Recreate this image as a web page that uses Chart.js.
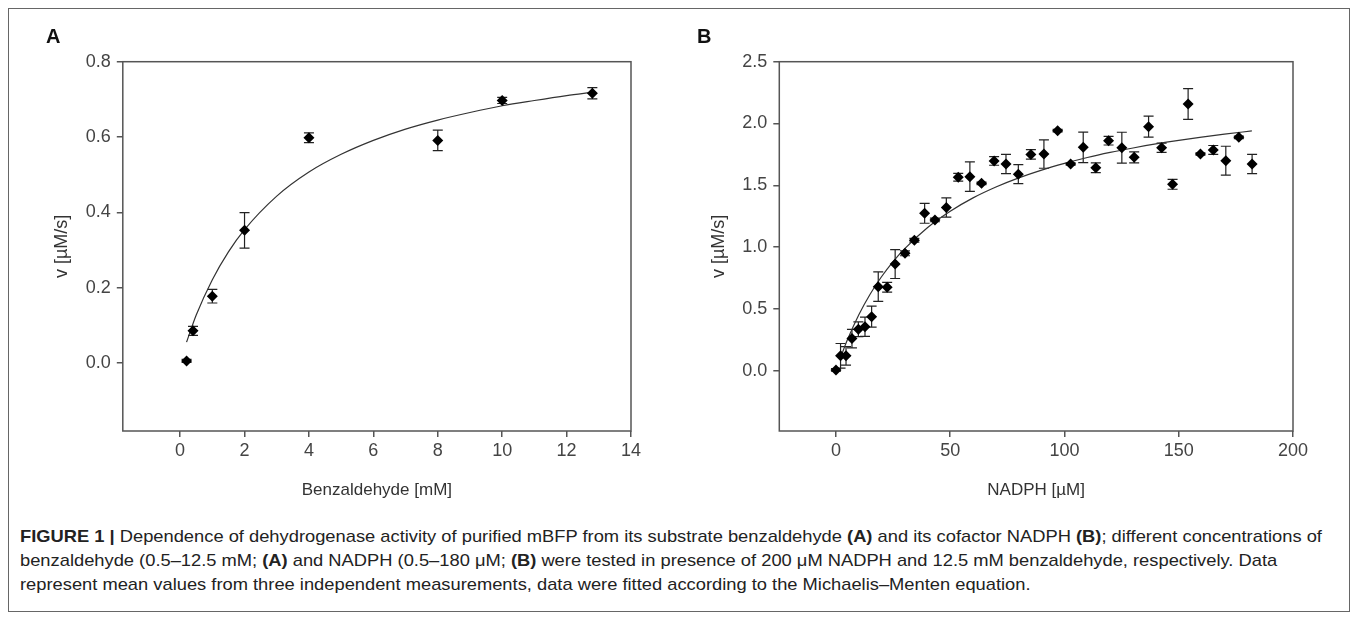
<!DOCTYPE html>
<html>
<head>
<meta charset="utf-8">
<script src="https://cdn.jsdelivr.net/npm/chart.js@4/dist/chart.umd.min.js"></script>
<style>
  html, body { margin: 0; padding: 0; background: #fff; }
  body { width: 1358px; height: 621px; position: relative; overflow: hidden; font-family: 'Liberation Sans', Arial, sans-serif; }
  #frame { position: absolute; left: 8px; top: 8px; width: 1342px; height: 604px; border: 1px solid #666; box-sizing: border-box; }
  .wrap { position: absolute; top: 0; height: 520px; }
  .letter { position: absolute; font: bold 20px 'Liberation Sans', Arial, sans-serif; color: #111; line-height: 20px; }
  #caption { position: absolute; left: 20px; top: 525px; font-family: 'Liberation Sans Narrow', 'Liberation Sans', Arial, sans-serif; font-size: 17px; line-height: 24px; color: #222; white-space: nowrap; transform-origin: 0 0; }
  #caption b { font-weight: bold; }
</style>
</head>
<body>
<div id="frame"></div>
<div class="wrap" style="left:0;width:680px"><canvas id="cA" width="680" height="520"></canvas></div>
<div class="wrap" style="left:680px;width:678px"><canvas id="cB" width="678" height="520"></canvas></div>
<div class="letter" style="left:46px;top:26px">A</div>
<div class="letter" style="left:697px;top:26px">B</div>
<div id="caption">
<div id="l1"><b>FIGURE 1 |</b> Dependence of dehydrogenase activity of purified mBFP from its substrate benzaldehyde <b>(A)</b> and its cofactor NADPH <b>(B)</b>; different concentrations of</div>
<div>benzaldehyde (0.5–12.5 mM; <b>(A)</b> and NADPH (0.5–180 μM; <b>(B)</b> were tested in presence of 200 μM NADPH and 12.5 mM benzaldehyde, respectively. Data</div>
<div>represent mean values from three independent measurements, data were fitted according to the Michaelis–Menten equation.</div>
</div>
<script>
// ---------- Panel A data: benzaldehyde ----------
const concA = [0.2, 0.4, 1.0, 2.0, 4.0, 8.0, 10.0, 12.8];
const vA    = [0.005, 0.085, 0.177, 0.352, 0.598, 0.591, 0.697, 0.716];
const errA  = [0.004, 0.012, 0.018, 0.047, 0.013, 0.027, 0.008, 0.015];
const fitAx = [0.2, 0.5, 1, 1.5, 2, 3, 4, 5, 6, 7, 8, 9, 10, 11, 12, 12.8];
const fitAy = [0.055, 0.127, 0.221, 0.295, 0.354, 0.443, 0.507, 0.554, 0.591, 0.621, 0.645, 0.665, 0.683, 0.697, 0.710, 0.719];
const xTicksA = [0, 2, 4, 6, 8, 10, 12, 14];
const yTicksA = [0.0, 0.2, 0.4, 0.6, 0.8];

// ---------- Panel B data: NADPH ----------
const concB = [0, 2.0, 4.4, 7.0, 9.8, 12.7, 15.6, 18.5, 22.4, 25.9, 30.2, 34.3, 38.8, 43.3, 48.3, 53.5, 58.6, 63.7, 69.2, 74.4, 79.8, 85.3, 91.0, 97.0, 102.7, 108.2, 113.7, 119.3, 125.1, 130.5, 136.8, 142.5, 147.3, 154.1, 159.5, 165.1, 170.6, 176.3, 182.1];
const vB    = [0.006, 0.12, 0.12, 0.26, 0.335, 0.356, 0.437, 0.68, 0.675, 0.863, 0.95, 1.055, 1.273, 1.22, 1.32, 1.565, 1.57, 1.516, 1.697, 1.672, 1.59, 1.75, 1.753, 1.942, 1.672, 1.807, 1.642, 1.861, 1.804, 1.726, 1.974, 1.804, 1.508, 2.158, 1.753, 1.786, 1.699, 1.888, 1.672];
const errB  = [0.01, 0.10, 0.075, 0.075, 0.06, 0.078, 0.085, 0.12, 0.04, 0.117, 0.02, 0.015, 0.08, 0.015, 0.078, 0.032, 0.12, 0.01, 0.035, 0.078, 0.077, 0.038, 0.115, 0.01, 0.01, 0.124, 0.04, 0.035, 0.125, 0.045, 0.085, 0.038, 0.04, 0.124, 0.01, 0.036, 0.117, 0.01, 0.078];
const fitBx = [2.5, 5, 10, 15, 20, 25, 30, 40, 50, 60, 70, 80, 90, 100, 110, 120, 130, 140, 150, 160, 170, 182];
const fitBy = [0.132, 0.250, 0.453, 0.621, 0.762, 0.883, 0.986, 1.157, 1.290, 1.398, 1.486, 1.560, 1.623, 1.677, 1.725, 1.766, 1.802, 1.835, 1.864, 1.890, 1.914, 1.940];
const xTicksB = [0, 50, 100, 150, 200];
const yTicksB = [0.0, 0.5, 1.0, 1.5, 2.0, 2.5];

Chart.defaults.font.family = "'Liberation Sans', Arial, sans-serif";
Chart.defaults.color = '#333';

const boxPlugin = {
  id: 'box',
  afterDraw(chart) {
    const {ctx, chartArea: a} = chart;
    ctx.save();
    ctx.strokeStyle = '#555';
    ctx.lineWidth = 1.5;
    ctx.strokeRect(a.left, a.top, a.right - a.left, a.bottom - a.top);
    ctx.restore();
  }
};

const errPlugin = {
  id: 'errbars',
  beforeDatasetsDraw(chart, args, opts) {
    const {ctx, scales: {x, y}} = chart;
    const xs = opts.xs, ys = opts.ys, es = opts.es;
    ctx.save();
    ctx.strokeStyle = '#222';
    ctx.lineWidth = 1.2;
    for (let i = 0; i < xs.length; i++) {
      const px = x.getPixelForValue(xs[i]);
      const pt = y.getPixelForValue(ys[i] + es[i]);
      const pb = y.getPixelForValue(ys[i] - es[i]);
      const cw = 5;
      ctx.beginPath();
      ctx.moveTo(px, pt); ctx.lineTo(px, pb);
      ctx.moveTo(px - cw, pt); ctx.lineTo(px + cw, pt);
      ctx.moveTo(px - cw, pb); ctx.lineTo(px + cw, pb);
      ctx.stroke();
    }
    ctx.restore();
  }
};

function makeChart(id, cfg) {
  const pts = cfg.xs.map((v, i) => ({x: v, y: cfg.ys[i]}));
  const fit = cfg.fx.map((v, i) => ({x: v, y: cfg.fy[i]}));
  return new Chart(document.getElementById(id), {
    type: 'scatter',
    data: {
      datasets: [
        { data: pts, pointStyle: 'rectRot', pointRadius: 5.5, backgroundColor: '#000', borderColor: '#000', borderWidth: 0, showLine: false },
        { data: fit, showLine: true, pointRadius: 0, borderColor: '#333', borderWidth: 1.2, cubicInterpolationMode: 'monotone', fill: false }
      ]
    },
    options: {
      responsive: false,
      animation: false,
      events: [],
      layout: { padding: cfg.pad },
      plugins: {
        legend: { display: false },
        tooltip: { enabled: false },
        errbars: { xs: cfg.xs, ys: cfg.ys, es: cfg.es }
      },
      scales: {
        x: {
          type: 'linear', min: cfg.xmin, max: cfg.xmax,
          afterBuildTicks: s => { s.ticks = cfg.xt.map(v => ({value: v})); },
          afterFit: s => { s.height = 74; },
          grid: { drawOnChartArea: false, drawTicks: true, tickLength: 6, color: '#555', lineWidth: 1.5 },
          border: { display: false },
          ticks: { font: { size: 18 }, color: '#444', padding: 3, maxRotation: 0, callback: v => String(v) },
          title: { display: true, text: cfg.xtitle, font: { size: 17 }, color: '#333', padding: { top: 4, bottom: 4 } }
        },
        y: {
          type: 'linear', min: cfg.ymin, max: cfg.ymax,
          afterBuildTicks: s => { s.ticks = cfg.yt.map(v => ({value: v})); },
          afterFit: s => { s.width = cfg.yw; },
          grid: { drawOnChartArea: false, drawTicks: true, tickLength: 6, color: '#555', lineWidth: 1.5 },
          border: { display: false },
          ticks: { font: { size: 18 }, color: '#444', padding: 6, callback: v => Number(v).toFixed(1) },
          title: { display: true, text: cfg.ytitle, font: { size: 18 }, color: '#333', padding: { top: 4, bottom: 4 } }
        }
      }
    },
    plugins: [boxPlugin, errPlugin]
  });
}

makeChart('cA', {
  xs: concA, ys: vA, es: errA, fx: fitAx, fy: fitAy,
  xmin: -1.78, xmax: 14, ymin: -0.181, ymax: 0.8,
  xt: xTicksA, yt: yTicksA, yw: 75.3,
  pad: { left: 47.5, top: 61.7, right: 49, bottom: 15 },
  xtitle: 'Benzaldehyde [mM]', ytitle: 'v [µM/s]'
});

makeChart('cB', {
  xs: concB, ys: vB, es: errB, fx: fitBx, fy: fitBy,
  xmin: -24.8, xmax: 200, ymin: -0.488, ymax: 2.5,
  xt: xTicksB, yt: yTicksB, yw: 75.0,
  pad: { left: 24.3, top: 61.7, right: 65, bottom: 15 },
  xtitle: 'NADPH [µM]', ytitle: 'v [µM/s]'
});

// fit caption line 1 to its width in the reference
(function () {
  const cap = document.getElementById('caption');
  const l1 = document.getElementById('l1');
  const w = l1.scrollWidth;
  const target = 1302;
  cap.style.transform = 'scaleX(' + (target / w) + ')';
})();
</script>
</body>
</html>
